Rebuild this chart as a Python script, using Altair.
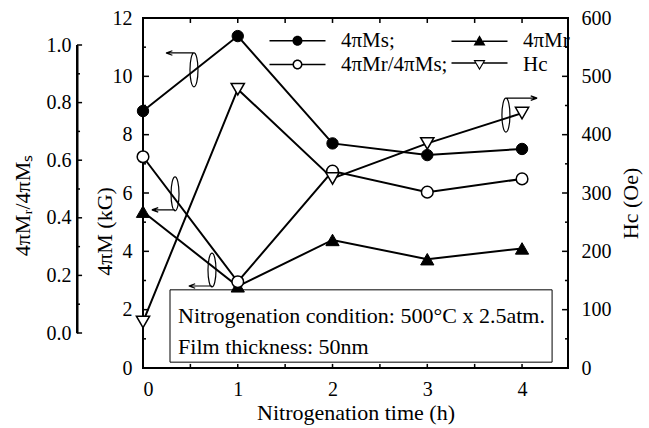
import altair as alt
import pandas as pd

# ---------------- data ----------------
TIME = [0, 1, 2, 3, 4]
MS = [8.81, 11.38, 7.70, 7.30, 7.51]          # 4πMs (kG)
MR = [5.36, 2.80, 4.39, 3.73, 4.10]           # 4πMr (kG)
RATIO = [0.612, 0.178, 0.562, 0.489, 0.535]   # 4πMr/4πMs
HC = [79, 478, 325, 385, 437]                 # Hc (Oe)

SERIES = ["4πMs;", "4πMr/4πMs;", "4πMr", "Hc"]   # legend order (column-major, 2 columns)

X_LABELS = [0, 1, 2, 3, 4]
X_TICKS = [0, 0.5, 1, 1.5, 2, 2.5, 3, 3.5, 4]
KG_MAJOR = [0, 2, 4, 6, 8, 10, 12]
KG_MINOR = [1, 3, 5, 7, 9, 11]
R_MAJOR = [0.0, 0.2, 0.4, 0.6, 0.8, 1.0]
R_MINOR = [0.1, 0.3, 0.5, 0.7, 0.9]
HC_MAJOR = [0, 100, 200, 300, 400, 500, 600]
HC_MINOR = [50, 150, 250, 350, 450, 550]

NOTE_LINES = ["Nitrogenation condition: 500°C x 2.5atm.", "Film thickness: 50nm"]

# ---------------- layout ----------------
FONT = "Liberation Serif"
W, H = 425, 350
OUT = 66
X_DOMAIN = [0, 4.485]
KG_DOMAIN = [0, 12]
HC_DOMAIN = [0, 600]
R_RANGE = [315, 27]            # pixel span of the outer 0..1 axis inside the plot height
OUTER_AXIS_T = -0.6965         # x of the outer ratio axis, in time units

# tick geometry in data units (length, half thickness)
TICK_T = [0.063, 0.032]
HALF_T = 0.008
TICK_KG = [0.17, 0.14]
HALF_KG = 0.026
HALF_HC = 1.3
HALF_R = 0.0026

NOTE_BOX_T = [0.285, 4.317]
NOTE_BOX_HC = [10, 134]
NOTE_TEXT_T = 0.37
NOTE_TEXT_HC = [89, 36]
ARROW_T = [0.538, 0.338, 0.728, 3.83]
ARROW_KG = [10.22, 5.97, 3.36, 8.67]
ARROW_KIND = ["tl", "bl", "bl", "tr"]

xs = alt.Scale(domain=X_DOMAIN, nice=False, zero=False)
kgs = alt.Scale(domain=KG_DOMAIN, nice=False)
rs = alt.Scale(domain=[0, 1], range=R_RANGE, nice=False, zero=False)
hs = alt.Scale(domain=HC_DOMAIN, nice=False)

x_main = alt.Axis(orient="bottom", values=X_LABELS, format="d", tickSize=0,
                  labelPadding=11, domain=False, grid=False,
                  title="Nitrogenation time (h)", titlePadding=3, titleFontSize=22)
kg_axis = alt.Axis(orient="left", values=KG_MAJOR, tickSize=0, labelPadding=11,
                   domain=False, grid=False, title="4πM (kG)", titleAngle=270,
                   titleX=-39, titleY=213, titleAlign="center", titleBaseline="middle",
                   titleFontSize=22)
r_axis = alt.Axis(orient="left", offset=OUT, values=R_MAJOR, format=".1f", tickSize=0,
                  labelPadding=6, domain=True, domainColor="black", domainWidth=2,
                  grid=False, title="4πMᵣ/4πMₛ",
                  titleAngle=270, titleX=-55, titleY=187, titleAlign="center",
                  titleBaseline="middle", titleFontSize=22)
hc_axis = alt.Axis(orient="right", values=HC_MAJOR, tickSize=0, labelPadding=13,
                   domain=False, grid=False, title="Hc (Oe)", titleAngle=270,
                   titleX=62, titleY=185, titleAlign="center", titleBaseline="middle",
                   titleFontSize=22)

df = pd.DataFrame(dict(t=TIME, ms=MS, mr=MR, ratio=RATIO, hc=HC))
base = alt.Chart(df)


def X(axis=None, field="t:Q"):
    return alt.X(field, scale=xs, axis=axis)


line = dict(color="black", strokeWidth=2)

ms_line = base.mark_line(**line).encode(x=X(x_main), y=alt.Y("ms:Q", scale=kgs, axis=kg_axis))
mr_line = base.mark_line(**line).encode(x=X(), y=alt.Y("mr:Q", scale=kgs, axis=None))
r_line = base.mark_line(**line).encode(x=X(), y=alt.Y("ratio:Q", scale=rs, axis=r_axis))
hc_line = base.mark_line(**line).encode(x=X(), y=alt.Y("hc:Q", scale=hs, axis=hc_axis))

ms_pts = base.mark_point(shape="circle", size=130, filled=True, fill="black", stroke="black",
                         strokeWidth=1, opacity=1).encode(
    x=X(), y=alt.Y("ms:Q", scale=kgs, axis=None))
mr_pts = base.mark_point(shape="triangle-up", size=175, filled=True, fill="black", stroke="black",
                         strokeWidth=1, opacity=1).encode(
    x=X(), y=alt.Y("mr:Q", scale=kgs, axis=None))
r_pts = base.mark_point(shape="circle", size=135, filled=True, fill="white", stroke="black",
                        strokeWidth=1.5, opacity=1).encode(
    x=X(), y=alt.Y("ratio:Q", scale=rs, axis=None))
hc_pts = base.mark_point(shape="triangle-down", size=175, filled=True, fill="white",
                         stroke="black", strokeWidth=1.5, opacity=1).encode(
    x=X(), y=alt.Y("hc:Q", scale=hs, axis=None))


# ---- inward ticks and the outer axis line as thin filled rectangles ----
def rects(x0, x1, y0, y1, yscale):
    d = pd.DataFrame({"x0": x0, "x1": x1, "y0": y0, "y1": y1})
    return alt.Chart(d).mark_rect(color="black", opacity=1).encode(
        x=X(field="x0:Q"), x2="x1:Q", y=alt.Y("y0:Q", scale=yscale, axis=None), y2="y1:Q")


def yticks(values, scale, x_at, length, half):
    n = len(values)
    return rects([x_at] * n, [x_at + length] * n,
                 [v - half for v in values], [v + half for v in values], scale)


def xticks(values, y_at, length):
    n = len(values)
    return rects([v - HALF_T for v in values], [v + HALF_T for v in values],
                 [y_at] * n, [y_at + length] * n, kgs)


ticks = [
    yticks(KG_MAJOR, kgs, X_DOMAIN[0], TICK_T[0], HALF_KG),
    yticks(KG_MINOR, kgs, X_DOMAIN[0], TICK_T[1], HALF_KG),
    yticks(HC_MAJOR, hs, X_DOMAIN[1], -TICK_T[0], HALF_HC),
    yticks(HC_MINOR, hs, X_DOMAIN[1], -TICK_T[1], HALF_HC),
    yticks(R_MAJOR, rs, OUTER_AXIS_T, TICK_T[0] * 0.85, HALF_R),
    yticks(R_MINOR, rs, OUTER_AXIS_T, TICK_T[1], HALF_R),
    xticks(X_TICKS, KG_DOMAIN[1], -TICK_KG[0]),
    xticks(X_TICKS, KG_DOMAIN[0], TICK_KG[1]),
    rects([OUTER_AXIS_T - HALF_T * 1.3], [OUTER_AXIS_T + HALF_T * 1.3],
          [R_MAJOR[0]], [R_MAJOR[-1]], rs),
]

# note box
box = alt.Chart(pd.DataFrame({"x0": [NOTE_BOX_T[0]], "x1": [NOTE_BOX_T[1]],
                              "y0": [NOTE_BOX_HC[0]], "y1": [NOTE_BOX_HC[1]]})).mark_rect(
    fill="white", stroke="black", strokeWidth=1).encode(
    x=X(field="x0:Q"), x2="x1:Q", y=alt.Y("y0:Q", scale=hs, axis=None), y2="y1:Q")
note = alt.Chart(pd.DataFrame({"x": [NOTE_TEXT_T] * 2, "y": NOTE_TEXT_HC,
                               "text": NOTE_LINES})).mark_text(
    align="left", baseline="middle", font=FONT, fontSize=22, color="black").encode(
    x=X(field="x:Q"), y=alt.Y("y:Q", scale=hs, axis=None), text="text:N")

# ellipse + arrow annotations (unit = 16 px at size 1024)
ELL = "M0,-1.06A0.25,1.06 0 1,1 0,1.06A0.25,1.06 0 1,1 0,-1.06"
ARROW_PATHS = {
    "tl": ELL + "M0,-1.06H-1.75M-1.75,-1.06L-1.35,-1.2M-1.75,-1.06L-1.35,-0.92",
    "bl": ELL + "M0,1.0H-1.45M-1.45,1.0L-1.05,0.86M-1.45,1.0L-1.05,1.14",
    "tr": ELL + "M0,-1.06H1.95M1.95,-1.06L1.55,-1.2M1.95,-1.06L1.55,-0.92",
}
adf = pd.DataFrame({"t": ARROW_T, "k": ARROW_KG, "kind": ARROW_KIND})
arrows = []
for kind, path in ARROW_PATHS.items():
    arrows.append(alt.Chart(adf[adf.kind == kind]).mark_point(
        shape=path, size=1024, filled=False, color="black", strokeWidth=1.2, opacity=1).encode(
        x=X(), y=alt.Y("k:Q", scale=kgs, axis=None)))

# legend: line-marker-line symbols built only from filled areas (unit = 5 px at size 100)
STUB = "M-5.6,-0.17H-{a}V0.17H-5.6ZM{a},-0.17H5.6V0.17H{a}Z"
STUB_T = "M-5.6,{y0}H-{a}V{y1}H-5.6ZM{a},{y0}H5.6V{y1}H{a}Z"
LEG_PATHS = [
    STUB.format(a=0.9) + "M-1,0A1,1 0 1,1 1,0A1,1 0 1,1 -1,0Z",
    STUB.format(a=0.9) + "M-1,0A1,1 0 1,1 1,0A1,1 0 1,1 -1,0Z"
    "M-0.7,0A0.7,0.7 0 1,0 0.7,0A0.7,0.7 0 1,0 -0.7,0Z",
    STUB_T.format(a=0.7, y0=-0.07, y1=0.27) + "M0,-1.1L1.2,0.95L-1.2,0.95Z",
    STUB_T.format(a=0.8, y0=-0.47, y1=-0.13) + "M-1.2,-0.9L1.2,-0.9L0,1.15Z"
    "M-0.8,-0.65L0,0.68L0.8,-0.65Z",
]
leg = alt.Chart(pd.DataFrame({"series": SERIES})).mark_point(
    filled=True, fill="black", opacity=1, size=100).encode(
    x=alt.value(-600), y=alt.value(-600),
    shape=alt.Shape("series:N", scale=alt.Scale(domain=SERIES, range=LEG_PATHS),
                    legend=alt.Legend(title=None, orient="none", legendX=144, legendY=12,
                                      columns=2, columnPadding=3, rowPadding=2,
                                      symbolSize=100, symbolStrokeWidth=0,
                                      symbolFillColor="black",
                                      labelFont=FONT, labelFontSize=21, labelColor="black",
                                      labelOffset=33)))

chart = alt.layer(
    ms_line, mr_line, r_line, hc_line, box, note,
    ms_pts, mr_pts, r_pts, hc_pts, *arrows, leg, *ticks
).resolve_scale(y="independent").resolve_axis(x="independent", y="independent").properties(
    width=W, height=H,
    padding={"left": 143, "top": 18, "right": 81, "bottom": 60},
    autosize=alt.AutoSizeParams(type="none"),
).configure_view(stroke="black", strokeWidth=2).configure_axis(
    labelFont=FONT, titleFont=FONT, labelFontSize=20, titleFontSize=22,
    titleFontWeight="normal", labelColor="black", titleColor="black",
    tickColor="black", grid=False
)

chart.save("out.html", embed_options={"renderer": "svg", "actions": False})
